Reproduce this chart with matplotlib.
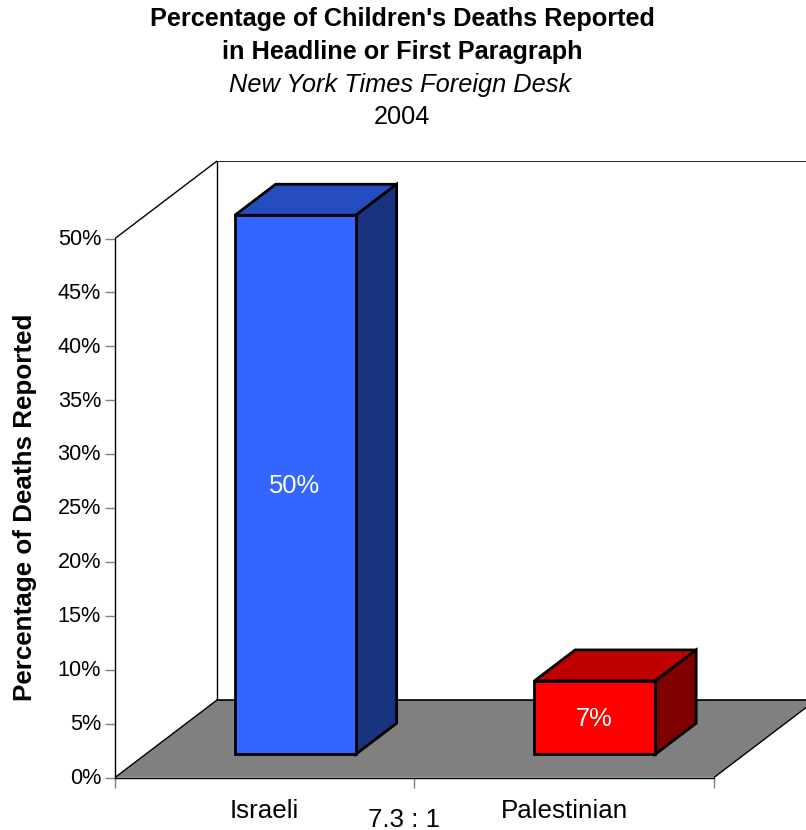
import matplotlib
matplotlib.use("Agg")
import matplotlib.pyplot as plt
from matplotlib.patches import Polygon
from matplotlib.transforms import ScaledTranslation

plt.rcParams['font.family'] = ['Liberation Sans', 'DejaVu Sans']

categories = ["Israeli", "Palestinian"]
values = [50, 6.8]
value_labels = ["50%", "7%"]
front_colors = ["#3366ff", "#ff0000"]
top_colors = ["#264dbf", "#bf0000"]
side_colors = ["#1a3380", "#800000"]
y_ticks = list(range(0, 55, 5))
title_lines = ["Percentage of Children's Deaths Reported", "in Headline or First Paragraph"]
subtitle = "New York Times Foreign Desk"
year = "2004"
ylabel = "Percentage of Deaths Reported"
ratio = "7.3 : 1"

W, H = 806, 830
L, R, B, T = 115, 806, 777.5, 161.5
PX_CAT = 299.5     # pixels per category
PX_PCT = 10.78     # pixels per percent
DX = 102 / PX_CAT  # oblique offset of full depth, in data units
DY = 77.5 / PX_PCT
BAR_W = 0.404
D0, D1 = 0.3, 0.7

fig = plt.figure(figsize=(W / 100, H / 100), dpi=100, facecolor="white")
ax = fig.add_axes([L / W, 1 - B / H, (R - L) / W, (B - T) / H])
ax.set_xlim(0, (R - L) / PX_CAT)
ax.set_ylim(0, (B - T) / PX_PCT)
ax.patch.set_visible(False)

def p(x, y, d):
    return (x + DX * d, y + DY * d)

n = len(categories)
ymax = y_ticks[-1]

# floor and walls
ax.add_patch(Polygon([p(0, 0, 0), p(n, 0, 0), p(n, 0, 1), p(0, 0, 1)], closed=True,
                     fc="#808080", ec="none", zorder=1))
wl = dict(color="black", lw=1.0, zorder=2, solid_capstyle="butt")
ax.plot(*zip(p(0, 0, 0), p(0, 0, 1)), **wl)
ax.plot(*zip(p(0, ymax, 0), p(0, ymax, 1)), **wl, clip_on=False)
ax.plot(*zip(p(0, 0, 1), p(0, ymax, 1)), **wl)
ax.plot(*zip(p(0, ymax, 1), p(n, ymax, 1)), color="black", lw=1.2, zorder=2)
ax.plot(*zip(p(0, 0, 1), p(n, 0, 1)), color="black", lw=1.2, zorder=2)
ax.plot(*zip(p(n, 0, 0), p(n, 0, 1)), **wl)

# bars
el = dict(ec="black", lw=2.0, joinstyle="miter", zorder=3, clip_on=True)
for i, v in enumerate(values):
    x0 = i + 0.5 - BAR_W / 2
    x1 = i + 0.5 + BAR_W / 2
    ax.add_patch(Polygon([p(x0, v, D0), p(x1, v, D0), p(x1, v, D1), p(x0, v, D1)],
                         fc=top_colors[i], **el))
    ax.add_patch(Polygon([p(x1, 0, D0), p(x1, 0, D1), p(x1, v, D1), p(x1, v, D0)],
                         fc=side_colors[i], **el))
    ax.add_patch(Polygon([p(x0, 0, D0), p(x1, 0, D0), p(x1, v, D0), p(x0, v, D0)],
                         fc=front_colors[i], **el))
    cx, cy = p(i + 0.5, v / 2, D0)
    ax.annotate(value_labels[i], (cx, cy), xytext=(-0.5, -1.0), textcoords="offset points",
                color="white", fontsize=18.4, ha="center", va="center", zorder=4)

# axes
for s in ("top", "right"):
    ax.spines[s].set_visible(False)
ax.spines["left"].set_bounds(0, ymax)
ax.spines["bottom"].set_bounds(0, n)
ax.spines["left"].set_linewidth(1.0)
ax.spines["bottom"].set_linewidth(1.0)
ax.spines["left"].set_zorder(5)
ax.spines["bottom"].set_zorder(5)
ax.set_yticks(y_ticks)
ax.set_yticklabels([f"{t}%" for t in y_ticks])
ax.set_xticks(range(n + 1))
ax.set_xticklabels([])
ax.set_xticks([i + 0.5 for i in range(n)], minor=True)
ax.set_xticklabels(categories, minor=True)
ax.tick_params(axis="y", direction="out", length=7.5, width=1.0, color="#808080",
               labelsize=15.6, pad=2.5)
ax.tick_params(axis="x", which="major", direction="out", length=7.5, width=1.0, color="#808080")
ax.tick_params(axis="x", which="minor", length=0, labelsize=18.7, pad=15.5)
shift = ScaledTranslation(0, 1.2 / 72, fig.dpi_scale_trans)
for lab in ax.get_yticklabels():
    lab.set_transform(lab.get_transform() + shift)

# text
def ftext(x, y, s, **kw):
    fig.text(x / W, 1 - y / H, s, ha="center", va="center", **kw)

ftext(402, 19, title_lines[0], fontsize=18.2, fontweight="bold")
ftext(402, 52, title_lines[1], fontsize=18.2, fontweight="bold")
ftext(400.5, 85, subtitle, fontsize=18.3, fontstyle="italic")
ftext(402, 117, year, fontsize=18.2)
ftext(404, 819.5, ratio, fontsize=18.6)
ftext(25, 507, ylabel, fontsize=18.7, fontweight="bold", rotation=90)

fig.savefig("out.png", dpi=100)
